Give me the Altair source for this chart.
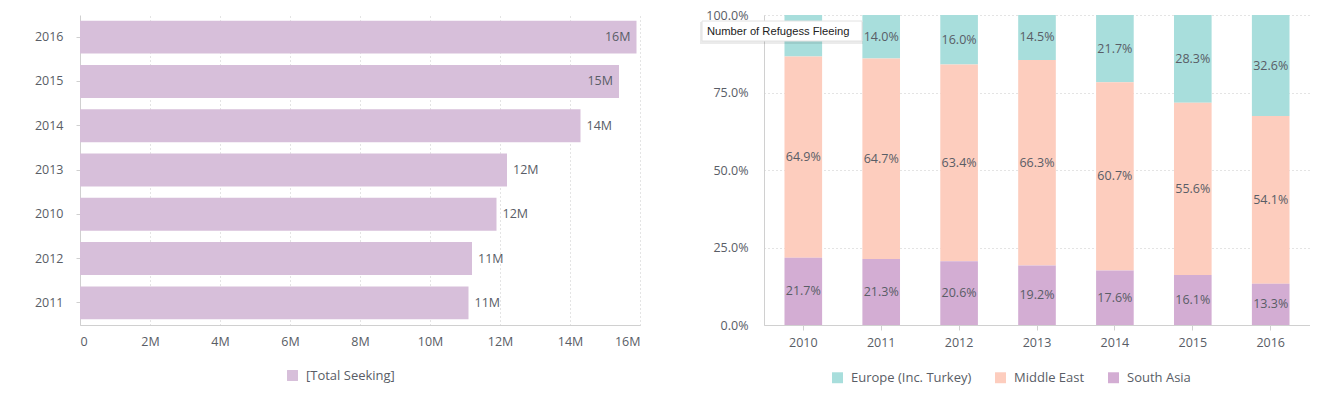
import altair as alt
import pandas as pd

# ---- left panel data ----
left_years = ["2016", "2015", "2014", "2013", "2010", "2012", "2011"]
total_seeking = [15.9e6, 15.4e6, 14.3e6, 12.2e6, 11.9e6, 11.2e6, 11.1e6]
left_series = "[Total Seeking]"
x_ticks = [0, 2e6, 4e6, 6e6, 8e6, 10e6, 12e6, 14e6, 16e6]

# ---- right panel data (percent shares) ----
years = ["2010", "2011", "2012", "2013", "2014", "2015", "2016"]
regions = ["Europe (Inc. Turkey)", "Middle East", "South Asia"]
europe = [13.4, 14.0, 16.0, 14.5, 21.7, 28.3, 32.6]
middle_east = [64.9, 64.7, 63.4, 66.3, 60.7, 55.6, 54.1]
south_asia = [21.7, 21.3, 20.6, 19.2, 17.6, 16.1, 13.3]
y_ticks = [0, 0.25, 0.5, 0.75, 1.0]
tooltip_text = "Number of Refugess Fleeing"

FONT = "Open Sans"
LABEL_COLOR = "#595d66"
GRID_COLOR = "#c8c8c8"
AXIS_COLOR = "#d0d0d0"

left_df = pd.DataFrame({"year": left_years, "seeking": total_seeking, "series": left_series})

rows = []
for i, y in enumerate(years):
    rows.append({"year": y, "region": regions[0], "share": europe[i]})
    rows.append({"year": y, "region": regions[1], "share": middle_east[i]})
    rows.append({"year": y, "region": regions[2], "share": south_asia[i]})
right_df = pd.DataFrame(rows)

# ---------------- left chart ----------------
lbase = alt.Chart(left_df)
y_left = alt.Y(
    "year:N",
    sort=left_years,
    scale=alt.Scale(paddingInner=0.255, paddingOuter=0.127),
    axis=alt.Axis(
        title=None, labelFont=FONT, labelFontSize=12.5, labelColor=LABEL_COLOR,
        tickSize=4, tickColor=AXIS_COLOR, labelPadding=13, domainColor=AXIS_COLOR,
        minExtent=67, maxExtent=67,
    ),
)
x_left = alt.X(
    "seeking:Q",
    scale=alt.Scale(domain=[0, 16e6], nice=False),
    axis=alt.Axis(
        title=None, values=x_ticks,
        labelExpr="datum.value == 0 ? '0' : format(datum.value, '~s')",
        labelFlush=True,
        labelFont=FONT, labelFontSize=12.5, labelColor=LABEL_COLOR, labelPadding=10,
        ticks=False, grid=True, gridDash=[1, 3], gridColor=GRID_COLOR,
        domainColor=AXIS_COLOR,
    ),
)
left_bars = lbase.mark_bar().encode(
    y=y_left,
    x=x_left,
    color=alt.Color(
        "series:N",
        scale=alt.Scale(domain=[left_series], range=["#D7BFDA"]),
        legend=alt.Legend(
            title=None, orient="none", legendX=206, legendY=354,
            symbolType="square", symbolSize=120, symbolStrokeWidth=0,
            labelFont=FONT, labelFontSize=13, labelColor=LABEL_COLOR, labelOffset=7,
        ),
    ),
)
left_in = lbase.transform_filter("datum.seeking >= 15e6").mark_text(
    align="right", dx=-6, font=FONT, fontSize=12.5, color=LABEL_COLOR
).encode(y=alt.Y("year:N", sort=left_years), x="seeking:Q",
         text=alt.Text("seeking:Q", format=".2s"))
left_out = lbase.transform_filter("datum.seeking < 15e6").mark_text(
    align="left", dx=6, font=FONT, fontSize=12.5, color=LABEL_COLOR
).encode(y=alt.Y("year:N", sort=left_years), x="seeking:Q",
         text=alt.Text("seeking:Q", format=".2s"))

left = alt.layer(left_bars, left_in, left_out).properties(width=560, height=310)

# ---------------- right chart ----------------
rbase = alt.Chart(right_df).transform_stack(
    stack="share", groupby=["year"], as_=["y0", "y1"], offset="normalize",
    sort=[alt.SortField("region", order="descending")],
).transform_calculate(
    mid="(datum.y0 + datum.y1) / 2", frac="datum.y1 - datum.y0"
)
x_right = alt.X(
    "year:N",
    sort=years,
    scale=alt.Scale(paddingInner=0.517, paddingOuter=0.263),
    axis=alt.Axis(
        title=None, labelAngle=0, labelFont=FONT, labelFontSize=12.5, labelColor=LABEL_COLOR,
        tickSize=5, tickColor=AXIS_COLOR, domainColor=AXIS_COLOR, labelPadding=6,
    ),
)
right_bars = rbase.mark_bar().encode(
    x=x_right,
    y=alt.Y(
        "y0:Q",
        scale=alt.Scale(domain=[0, 1], nice=False),
        axis=alt.Axis(
            title=None, values=y_ticks, format=".1%", labelFont=FONT, labelFontSize=12.5,
            labelColor=LABEL_COLOR, ticks=False, labelPadding=16,
            grid=True, gridDash=[1, 3], gridColor=GRID_COLOR, domainColor=AXIS_COLOR,
        ),
    ),
    y2="y1:Q",
    color=alt.Color(
        "region:N",
        scale=alt.Scale(domain=regions, range=["#A8DEDC", "#FDCDBE", "#D3ADD3"]),
        legend=alt.Legend(
            title=None, orient="none", direction="horizontal", legendX=67, legendY=356,
            symbolType="square", symbolSize=120, symbolStrokeWidth=0, columnPadding=22,
            labelFont=FONT, labelFontSize=13, labelColor=LABEL_COLOR, labelOffset=7,
        ),
    ),
)
right_text = rbase.mark_text(font=FONT, fontSize=12.5, color=LABEL_COLOR).encode(
    x=alt.X("year:N", sort=years),
    y="mid:Q",
    text=alt.Text("frac:Q", format=".1%"),
)

tip_df = pd.DataFrame({"label": [tooltip_text]})
tip_shadow = alt.Chart(tip_df).mark_rect(color="#000000", opacity=0.08).encode(
    x=alt.value(-64), x2=alt.value(99), y=alt.value(7), y2=alt.value(29)
)
tip_box = alt.Chart(tip_df).mark_rect(color="#ffffff", stroke="#e2e2e2", strokeWidth=1).encode(
    x=alt.value(-62), x2=alt.value(98), y=alt.value(6), y2=alt.value(26)
)
tip_text = alt.Chart(tip_df).mark_text(
    align="left", baseline="middle", font="Liberation Sans", fontSize=11.2, color="#222222"
).encode(x=alt.value(-57), y=alt.value(16.5), text="label:N")

right = alt.layer(right_bars, right_text, tip_shadow, tip_box, tip_text).properties(
    width=546, height=310
)

chart = alt.hconcat(left, right, spacing=124, bounds="flush").resolve_scale(
    color="independent"
).resolve_legend(color="independent").properties(
    padding={"left": 5, "top": 1, "right": 0, "bottom": 5}
).configure_view(stroke=None)

chart.save("out.html", embed_options={"renderer": "svg", "actions": False})
